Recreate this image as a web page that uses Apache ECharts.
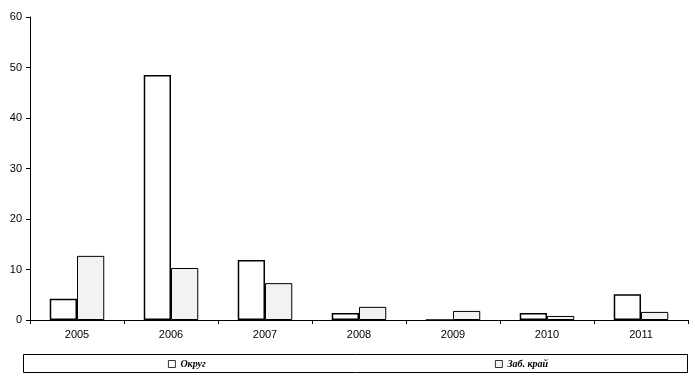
<!DOCTYPE html>
<html><head><meta charset="utf-8">
<script src="https://cdn.jsdelivr.net/npm/echarts@6/dist/echarts.min.js"></script>
<style>html,body{margin:0;padding:0;background:#fff}#c{width:695px;height:378px}</style>
</head><body><div id="c"></div>
<script>
const categories = ['2005','2006','2007','2008','2009','2010','2011'];
const okrug = [4.2, 48.5, 11.9, 1.4, 0, 1.4, 5.1];
const zabKrai = [12.7, 10.3, 7.3, 2.6, 1.8, 0.8, 1.6];
const yTicks = {min: 0, max: 60, interval: 10};
const seriesNames = ['Округ', 'Заб. край'];

const chart = echarts.init(document.getElementById('c'), null, {renderer: 'canvas'});
const legendText = {fontFamily: 'Liberation Serif', fontStyle: 'italic', fontWeight: 'bold', fontSize: 10, color: '#000'};
const legendIcon = {borderWidth: 0.8, borderColor: '#000'};
chart.setOption({
  animation: false,
  grid: {left: 30, right: 7, top: 17, bottom: 58, containLabel: false},
  xAxis: {
    type: 'category', data: categories,
    axisLine: {lineStyle: {color: '#000', width: 1}},
    axisTick: {show: true, inside: false, length: 4, lineStyle: {color: '#000'}},
    axisLabel: {color: '#000', fontFamily: 'Liberation Sans', fontSize: 11, margin: 9}
  },
  yAxis: {
    type: 'value', min: yTicks.min, max: yTicks.max, interval: yTicks.interval,
    splitLine: {show: false},
    axisLine: {show: true, lineStyle: {color: '#000', width: 1}},
    axisTick: {show: true, length: 4, lineStyle: {color: '#000'}},
    axisLabel: {color: '#000', fontFamily: 'Liberation Sans', fontSize: 11, margin: 8}
  },
  legend: [
    {data: [seriesNames[0]], left: 163, top: 354, itemWidth: 7, itemHeight: 7, icon: 'rect', textStyle: legendText, itemGap: 4, itemStyle: legendIcon},
    {data: [seriesNames[1]], left: 490, top: 354, itemWidth: 7, itemHeight: 7, icon: 'rect', textStyle: legendText, itemGap: 4, itemStyle: legendIcon}
  ],
  graphic: [{type: 'rect', shape: {x: 23.5, y: 354.5, width: 664, height: 18}, style: {fill: 'none', stroke: '#000', lineWidth: 1}, silent: true}],
  series: [
    {name: seriesNames[0], type: 'bar', data: okrug, barGap: '0%', barCategoryGap: '42%',
     itemStyle: {color: '#ffffff', borderColor: '#000', borderWidth: 1.5}},
    {name: seriesNames[1], type: 'bar', data: zabKrai,
     itemStyle: {color: '#f2f2f2', borderColor: '#000', borderWidth: 1}}
  ]
});
</script></body></html>
